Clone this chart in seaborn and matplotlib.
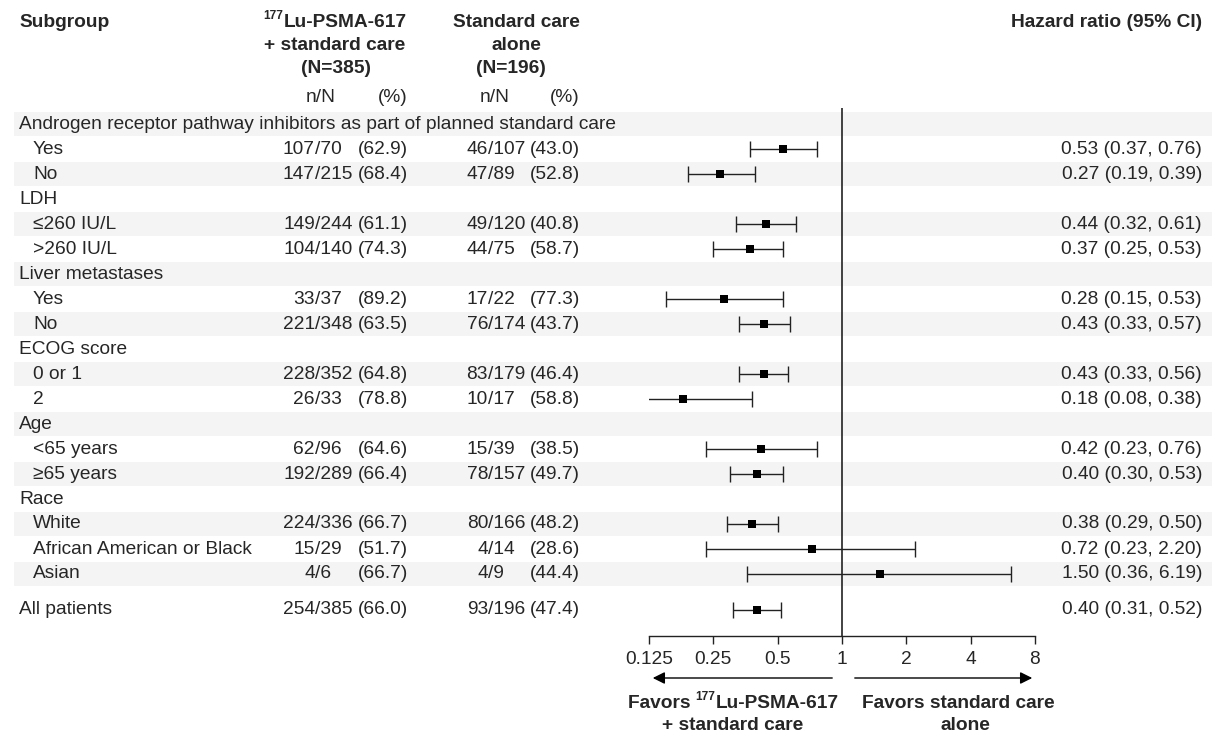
import numpy as np
import pandas as pd
import matplotlib
matplotlib.use('Agg')
import matplotlib.pyplot as plt
import seaborn as sns

sns.set_style('white')
plt.rcParams['font.family'] = ['Liberation Sans', 'DejaVu Sans']

# 데이터
labels = ["Androgen receptor pathway inhibitors as part of planned standard care",
          "Yes", "No", "LDH", "≤260 IU/L", ">260 IU/L", "Liver metastases", "Yes", "No",
          "ECOG score", "0 or 1", "2", "Age", "<65 years", "≥65 years", "Race", "White",
          "African American or Black", "Asian", "All patients"]
is_group = [True, False, False, True, False, False, True, False, False, True, False, False,
            True, False, False, True, False, False, False, True]
lu_n = [None, 107, 147, None, 149, 104, None, 33, 221, None, 228, 26, None, 62, 192, None, 224, 15, 4, 254]
lu_N = [None, 70, 215, None, 244, 140, None, 37, 348, None, 352, 33, None, 96, 289, None, 336, 29, 6, 385]
lu_pct = [None, 62.9, 68.4, None, 61.1, 74.3, None, 89.2, 63.5, None, 64.8, 78.8, None, 64.6, 66.4,
          None, 66.7, 51.7, 66.7, 66.0]
sc_n = [None, 46, 47, None, 49, 44, None, 17, 76, None, 83, 10, None, 15, 78, None, 80, 4, 4, 93]
sc_N = [None, 107, 89, None, 120, 75, None, 22, 174, None, 179, 17, None, 39, 157, None, 166, 14, 9, 196]
sc_pct = [None, 43.0, 52.8, None, 40.8, 58.7, None, 77.3, 43.7, None, 46.4, 58.8, None, 38.5, 49.7,
          None, 48.2, 28.6, 44.4, 47.4]
hr = [None, 0.53, 0.27, None, 0.44, 0.37, None, 0.28, 0.43, None, 0.43, 0.18, None, 0.42, 0.40,
      None, 0.38, 0.72, 1.50, 0.40]
hr_lo = [None, 0.37, 0.19, None, 0.32, 0.25, None, 0.15, 0.33, None, 0.33, 0.08, None, 0.23, 0.30,
         None, 0.29, 0.23, 0.36, 0.31]
hr_hi = [None, 0.76, 0.39, None, 0.61, 0.53, None, 0.53, 0.57, None, 0.56, 0.38, None, 0.76, 0.53,
         None, 0.50, 2.20, 6.19, 0.52]
ticks = [0.125, 0.25, 0.5, 1, 2, 4, 8]
tick_labels = ['0.125', '0.25', '0.5', '1', '2', '4', '8']

# 행 위치 (픽셀 기준 레이아웃)
ypos = [124 + 25 * i for i in range(len(labels) - 1)] + [610]

fs = 13.8
fig = plt.figure(figsize=(12.12, 7.35), dpi=100)
tab = fig.add_axes([0, 0, 1, 1])
tab.set_xlim(0, 1212)
tab.set_ylim(735, 0)
tab.axis('off')

# 줄무늬 배경
for i, y in enumerate(ypos[:-1]):
    if i % 2 == 0:
        tab.axhspan(y - 12, y + 12, xmin=14 / 1212, xmax=1, color='#f4f4f4', lw=0, zorder=0)


def sup_text(xc, y, prefix):
    # prefix + ^177 + Lu-PSMA-617 를 가운데 정렬 (윗첨자는 작은 글씨로 따로)
    r = fig.canvas.get_renderer()
    parts = [(prefix, fs, 0), ('177', fs * 0.62, -6), ('Lu-PSMA-617', fs, 0)]
    widths = []
    for s, f, _ in parts:
        tt = tab.text(0, 0, s, fontsize=f, weight='bold')
        widths.append(tt.get_window_extent(r).width)
        tt.remove()
    x = xc - sum(widths) / 2
    for (s, f, dy), w in zip(parts, widths):
        tab.text(x, y + dy, s, fontsize=f, weight='bold', ha='left', va='center')
        x += w


# 헤더
tab.text(19, 22, 'Subgroup', fontsize=fs, weight='bold', va='center')
sup_text(335, 22, '')
tab.text(335, 45, '+ standard care', fontsize=fs, weight='bold', ha='center', va='center')
tab.text(336, 68, '(N=385)', fontsize=fs, weight='bold', ha='center', va='center')
tab.text(516, 22, 'Standard care', fontsize=fs, weight='bold', ha='center', va='center')
tab.text(516, 45, 'alone', fontsize=fs, weight='bold', ha='center', va='center')
tab.text(511, 68, '(N=196)', fontsize=fs, weight='bold', ha='center', va='center')
tab.text(1202, 22, 'Hazard ratio (95% CI)', fontsize=fs, weight='bold', ha='right', va='center')
for cx, px in [(321, 408), (495, 580)]:
    tab.text(cx, 97, 'n/N', fontsize=fs, ha='center', va='center')
    tab.text(px, 97, '(%)', fontsize=fs, ha='right', va='center')

# 표 내용
for i, y in enumerate(ypos):
    x0 = 19 if is_group[i] else 33
    tab.text(x0, y, labels[i], fontsize=fs, va='center')
    if hr[i] is None:
        continue
    tab.text(315, y, str(lu_n[i]), fontsize=fs, ha='right', va='center')
    tab.text(315, y, '/' + str(lu_N[i]), fontsize=fs, ha='left', va='center')
    tab.text(408, y, f'({lu_pct[i]:.1f})', fontsize=fs, ha='right', va='center')
    tab.text(488, y, str(sc_n[i]), fontsize=fs, ha='right', va='center')
    tab.text(488, y, '/' + str(sc_N[i]), fontsize=fs, ha='left', va='center')
    tab.text(580, y, f'({sc_pct[i]:.1f})', fontsize=fs, ha='right', va='center')
    tab.text(1202, y, f'{hr[i]:.2f} ({hr_lo[i]:.2f}, {hr_hi[i]:.2f})', fontsize=fs, ha='right', va='center')

# 포레스트 플롯
df = pd.DataFrame({'y': ypos, 'hr': hr, 'lo': hr_lo, 'hi': hr_hi}).dropna()
ax = fig.add_axes([649 / 1212, (735 - 636) / 735, (1035 - 649) / 1212, (636 - 108) / 735])
ax.patch.set_alpha(0)
ax.set_xscale('log', base=2)
ax.set_xlim(0.125, 8)
ax.set_ylim(636, 108)
ax.axvline(1, color='#222222', lw=1.2, zorder=1)
ax.errorbar(df['hr'], df['y'], xerr=[df['hr'] - df['lo'], df['hi'] - df['hr']], fmt='none',
            ecolor='#222222', elinewidth=1, capsize=5.5, capthick=1, zorder=2)
sns.scatterplot(data=df, x='hr', y='y', marker='s', s=28, color='black', linewidth=0, ax=ax, zorder=3)
ax.set_xticks(ticks)
ax.set_xticklabels(tick_labels, fontsize=fs)
ax.minorticks_off()
ax.set_yticks([])
ax.set_xlabel('')
ax.set_ylabel('')
for s in ['top', 'right', 'left']:
    ax.spines[s].set_visible(False)
ax.spines['bottom'].set_color('#222222')
ax.spines['bottom'].set_linewidth(1)
ax.tick_params(axis='x', bottom=True, direction='out', length=6, width=1, color='#222222', pad=5)

# 화살표와 설명
arrow = dict(arrowstyle='-|>', color='black', lw=1, mutation_scale=18)
tab.annotate('', xy=(650, 678), xytext=(835, 678), arrowprops=arrow)
tab.annotate('', xy=(1035, 678), xytext=(852, 678), arrowprops=arrow)
sup_text(733, 703, 'Favors ')
tab.text(733, 726, '+ standard care', fontsize=fs, weight='bold', ha='center', va='center')
tab.text(958, 703, 'Favors standard care', fontsize=fs, weight='bold', ha='center', va='center')
tab.text(965, 726, 'alone', fontsize=fs, weight='bold', ha='center', va='center')

fig.savefig('out.png', dpi=100)
